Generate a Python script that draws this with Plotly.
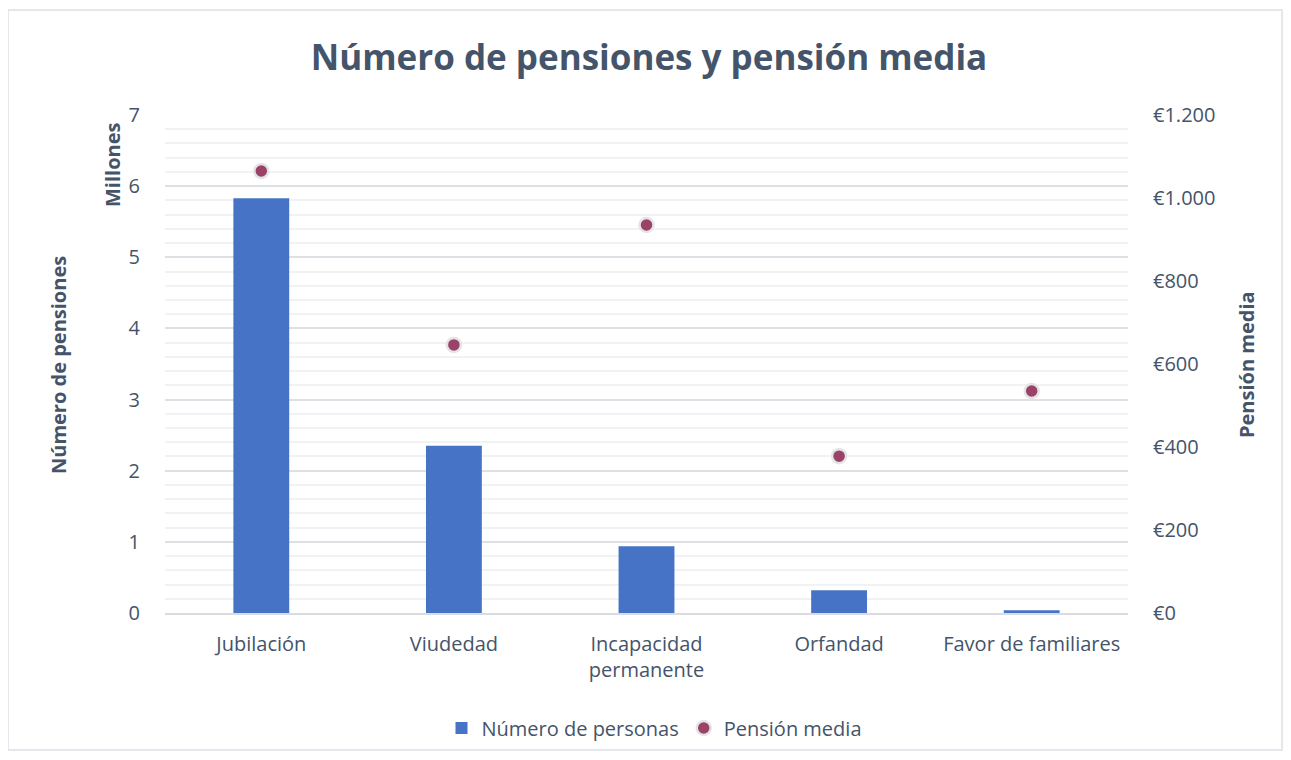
import plotly.graph_objects as go

categories = ["Jubilación", "Viudedad", "Incapacidad<br>permanente", "Orfandad", "Favor de familiares"]
num_personas_millones = [5.83, 2.35, 0.94, 0.32, 0.04]
pension_media = [1065, 646, 935, 378, 535]

left_ticks = [0, 1, 2, 3, 4, 5, 6, 7]
right_ticks = [0, 200, 400, 600, 800, 1000, 1200]
right_tick_labels = ["€0", "€200", "€400", "€600", "€800", "€1.000", "€1.200"]

FONT = "Open Sans"
TXT = "#44546A"

# page offset (body margin) of 8px
OFF = 8
PL, PR, PT, PB = 165, 1128, 115, 613
PW, PH = PR - PL, PB - PT


def px(x):
    return (x - PL) / PW


def py(y):
    return (PB - y) / PH


fig = go.Figure()
fig.add_trace(go.Bar(
    x=categories, y=num_personas_millones, name="Número de personas",
    marker=dict(color="#4673C6", line=dict(width=0)), width=0.29, yaxis="y",
))
fig.add_trace(go.Scatter(
    x=categories, y=pension_media, name="Pensión media", mode="markers",
    marker=dict(color="#9B4269", size=14, line=dict(color="#E4E4E4", width=2.5)),
    yaxis="y2",
))

fig.update_layout(
    width=1291, height=760,
    margin=dict(l=PL - OFF, r=OFF + 1291 - PR, t=PT - OFF, b=OFF + 760 - PB),
    paper_bgcolor="white", plot_bgcolor="white",
    separators=",.",
    font=dict(family=FONT, color=TXT, size=20),
    title=dict(text="<b>Número de pensiones y pensión media</b>", x=px(649), xref="paper",
               xanchor="center",
               y=1 - (58 - OFF) / 760, yanchor="middle", font=dict(size=35, color=TXT, family=FONT)),
    xaxis=dict(showline=True, linecolor="#D9DCE1", linewidth=2, showgrid=False,
               ticks="outside", ticklen=12, tickcolor="rgba(0,0,0,0)",
               tickfont=dict(size=20, color=TXT)),
    yaxis=dict(range=[0, 7], tickvals=left_ticks, showgrid=True, gridcolor="#DDE1E6", gridwidth=1.5,
               minor=dict(dtick=0.2, showgrid=True, gridcolor="#F1F2F4", gridwidth=1.5),
               zeroline=False, showline=False,
               ticks="outside", ticklen=20, tickcolor="rgba(0,0,0,0)",
               tickfont=dict(size=20, color=TXT)),
    yaxis2=dict(range=[0, 1200], tickvals=right_ticks, ticktext=right_tick_labels,
                overlaying="y", side="right",
                showgrid=False, zeroline=False,
                ticks="outside", ticklen=20, tickcolor="rgba(0,0,0,0)",
                tickfont=dict(size=20, color=TXT)),
    legend=dict(orientation="h", x=px(654), xanchor="center", y=py(728), yanchor="middle",
                font=dict(size=20, color=TXT)),
    showlegend=True,
)

fig.add_annotation(text="<b>Número de pensiones</b>", xref="paper", yref="paper",
                   x=px(58), y=py(365), textangle=-90, showarrow=False,
                   font=dict(size=20, color=TXT), xanchor="center", yanchor="middle")
fig.add_annotation(text="<b>Millones</b>", xref="paper", yref="paper",
                   x=px(112), y=py(165), textangle=-90, showarrow=False,
                   font=dict(size=20, color=TXT), xanchor="center", yanchor="middle")
fig.add_annotation(text="<b>Pensión media</b>", xref="paper", yref="paper",
                   x=px(1246), y=py(365), textangle=-90, showarrow=False,
                   font=dict(size=20, color=TXT), xanchor="center", yanchor="middle")

fig.add_shape(type="rect", xref="paper", yref="paper",
              x0=px(8), x1=px(1282), y0=py(750), y1=py(10),
              line=dict(color="#DCE0E6", width=1.5), fillcolor="rgba(0,0,0,0)", layer="below")

fig.write_html("out.html")
